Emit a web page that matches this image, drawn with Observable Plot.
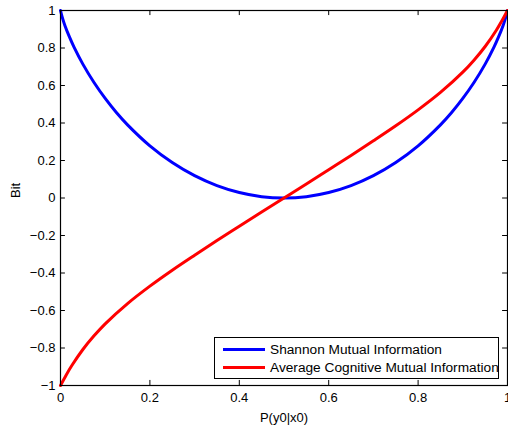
<!DOCTYPE html>
<html><head><meta charset="utf-8">
<script src="https://cdn.jsdelivr.net/npm/d3@7"></script>
<script src="https://cdn.jsdelivr.net/npm/@observablehq/plot@0.6"></script>
<style>
body{margin:0;background:#fff;}
#wrap{position:relative;width:508px;height:428px;font-family:"Liberation Sans",Arial,sans-serif;}
#legend{position:absolute;left:214px;top:337px;width:285px;height:42px;border:1px solid #000;background:#fff;box-sizing:border-box;font-size:13.7px;color:#000;}
.row{position:absolute;left:0;right:0;height:18px;}
.sw{position:absolute;left:8px;width:42px;top:7px;height:3px;}
.lb{position:absolute;left:55px;top:0px;white-space:nowrap;line-height:17px;}
</style>
</head><body>
<div id="wrap"><div id="chart"></div><div id="legend"></div></div>
<script>
// x-axis: P(y0|x0)
const pShannon = [0,0.005,0.01,0.02,0.03,0.05,0.075,0.1,0.125,0.15,0.2,0.25,0.3,0.35,0.4,0.45,0.5,0.55,0.6,0.65,0.7,0.75,0.8,0.85,0.875,0.9,0.925,0.95,0.97,0.98,0.99,0.995,1];
const shannon  = [1,0.955,0.919,0.859,0.806,0.714,0.616,0.531,0.456,0.390,0.278,0.189,0.119,0.066,0.029,0.007,0,0.007,0.029,0.066,0.119,0.189,0.278,0.390,0.456,0.531,0.616,0.714,0.806,0.859,0.919,0.955,1];
const pCognitive = [0,0.0125,0.025,0.05,0.075,0.1,0.15,0.2,0.25,0.3,0.35,0.4,0.45,0.5,0.55,0.6,0.65,0.7,0.75,0.8,0.85,0.9,0.925,0.95,0.975,0.9875,1];
const cognitive  = [-1,-0.945,-0.895,-0.808,-0.735,-0.671,-0.563,-0.47,-0.385,-0.305,-0.227,-0.151,-0.075,0,0.075,0.151,0.227,0.305,0.385,0.47,0.563,0.671,0.735,0.808,0.895,0.945,1];
const seriesNames = ["Shannon Mutual Information","Average Cognitive Mutual Information"];
const seriesColors = ["#0000ff","#ff0000"];
const xTicks = [0,0.2,0.4,0.6,0.8,1];
const yTicks = [-1,-0.8,-0.6,-0.4,-0.2,0,0.2,0.4,0.6,0.8,1];
const xLabel = "P(y0|x0)";
const yLabel = "Bit";

const dataS = pShannon.map((p,i)=>({p, v: shannon[i]}));
const dataC = pCognitive.map((p,i)=>({p, v: cognitive[i]}));
const fmt = d3.format("~g");

const chart = Plot.plot({
  width: 508, height: 428,
  marginTop: 10, marginRight: 1, marginBottom: 43, marginLeft: 60,
  style: {fontFamily: '"Liberation Sans", Arial, sans-serif', fontSize: "13px", color: "#000", background: "#fff"},
  x: {domain: [0,1]},
  y: {domain: [-1,1]},
  marks: [
    Plot.axisX(xTicks, {tickSize: 0, tickPadding: 7, tickFormat: fmt, label: null}),
    Plot.axisY(yTicks, {tickSize: 0, tickPadding: 5, tickFormat: fmt, label: null}),
    Plot.text([xLabel], {text: d=>d, frameAnchor: "bottom", dy: 32, lineAnchor: "middle", fill: "#000"}),
    Plot.text([yLabel], {text: d=>d, frameAnchor: "left", dx: -45, rotate: -90, fill: "#000"}),
    Plot.ruleY(yTicks, {y: d=>d, x1: 0, x2: 0.011, stroke: "#000"}),
    Plot.ruleY(yTicks, {y: d=>d, x1: 0.989, x2: 1, stroke: "#000"}),
    Plot.ruleX(xTicks, {x: d=>d, y1: -1, y2: -0.973, stroke: "#000"}),
    Plot.ruleX(xTicks, {x: d=>d, y1: 1, y2: 0.973, stroke: "#000"}),
    Plot.line(dataS, {x: "p", y: "v", stroke: seriesColors[0], strokeWidth: 3, curve: "catmull-rom"}),
    Plot.line(dataC, {x: "p", y: "v", stroke: seriesColors[1], strokeWidth: 3, curve: "catmull-rom"}),
    Plot.frame({stroke: "#000", strokeWidth: 1.2})
  ]
});
document.getElementById("chart").appendChild(chart);

const leg = document.getElementById("legend");
seriesNames.forEach((name,i)=>{
  const row = document.createElement("div");
  row.className = "row";
  row.style.top = (3 + i*18) + "px";
  row.innerHTML = `<div class="sw" style="background:${seriesColors[i]}"></div><div class="lb">${name}</div>`;
  leg.appendChild(row);
});
</script>
</body></html>
